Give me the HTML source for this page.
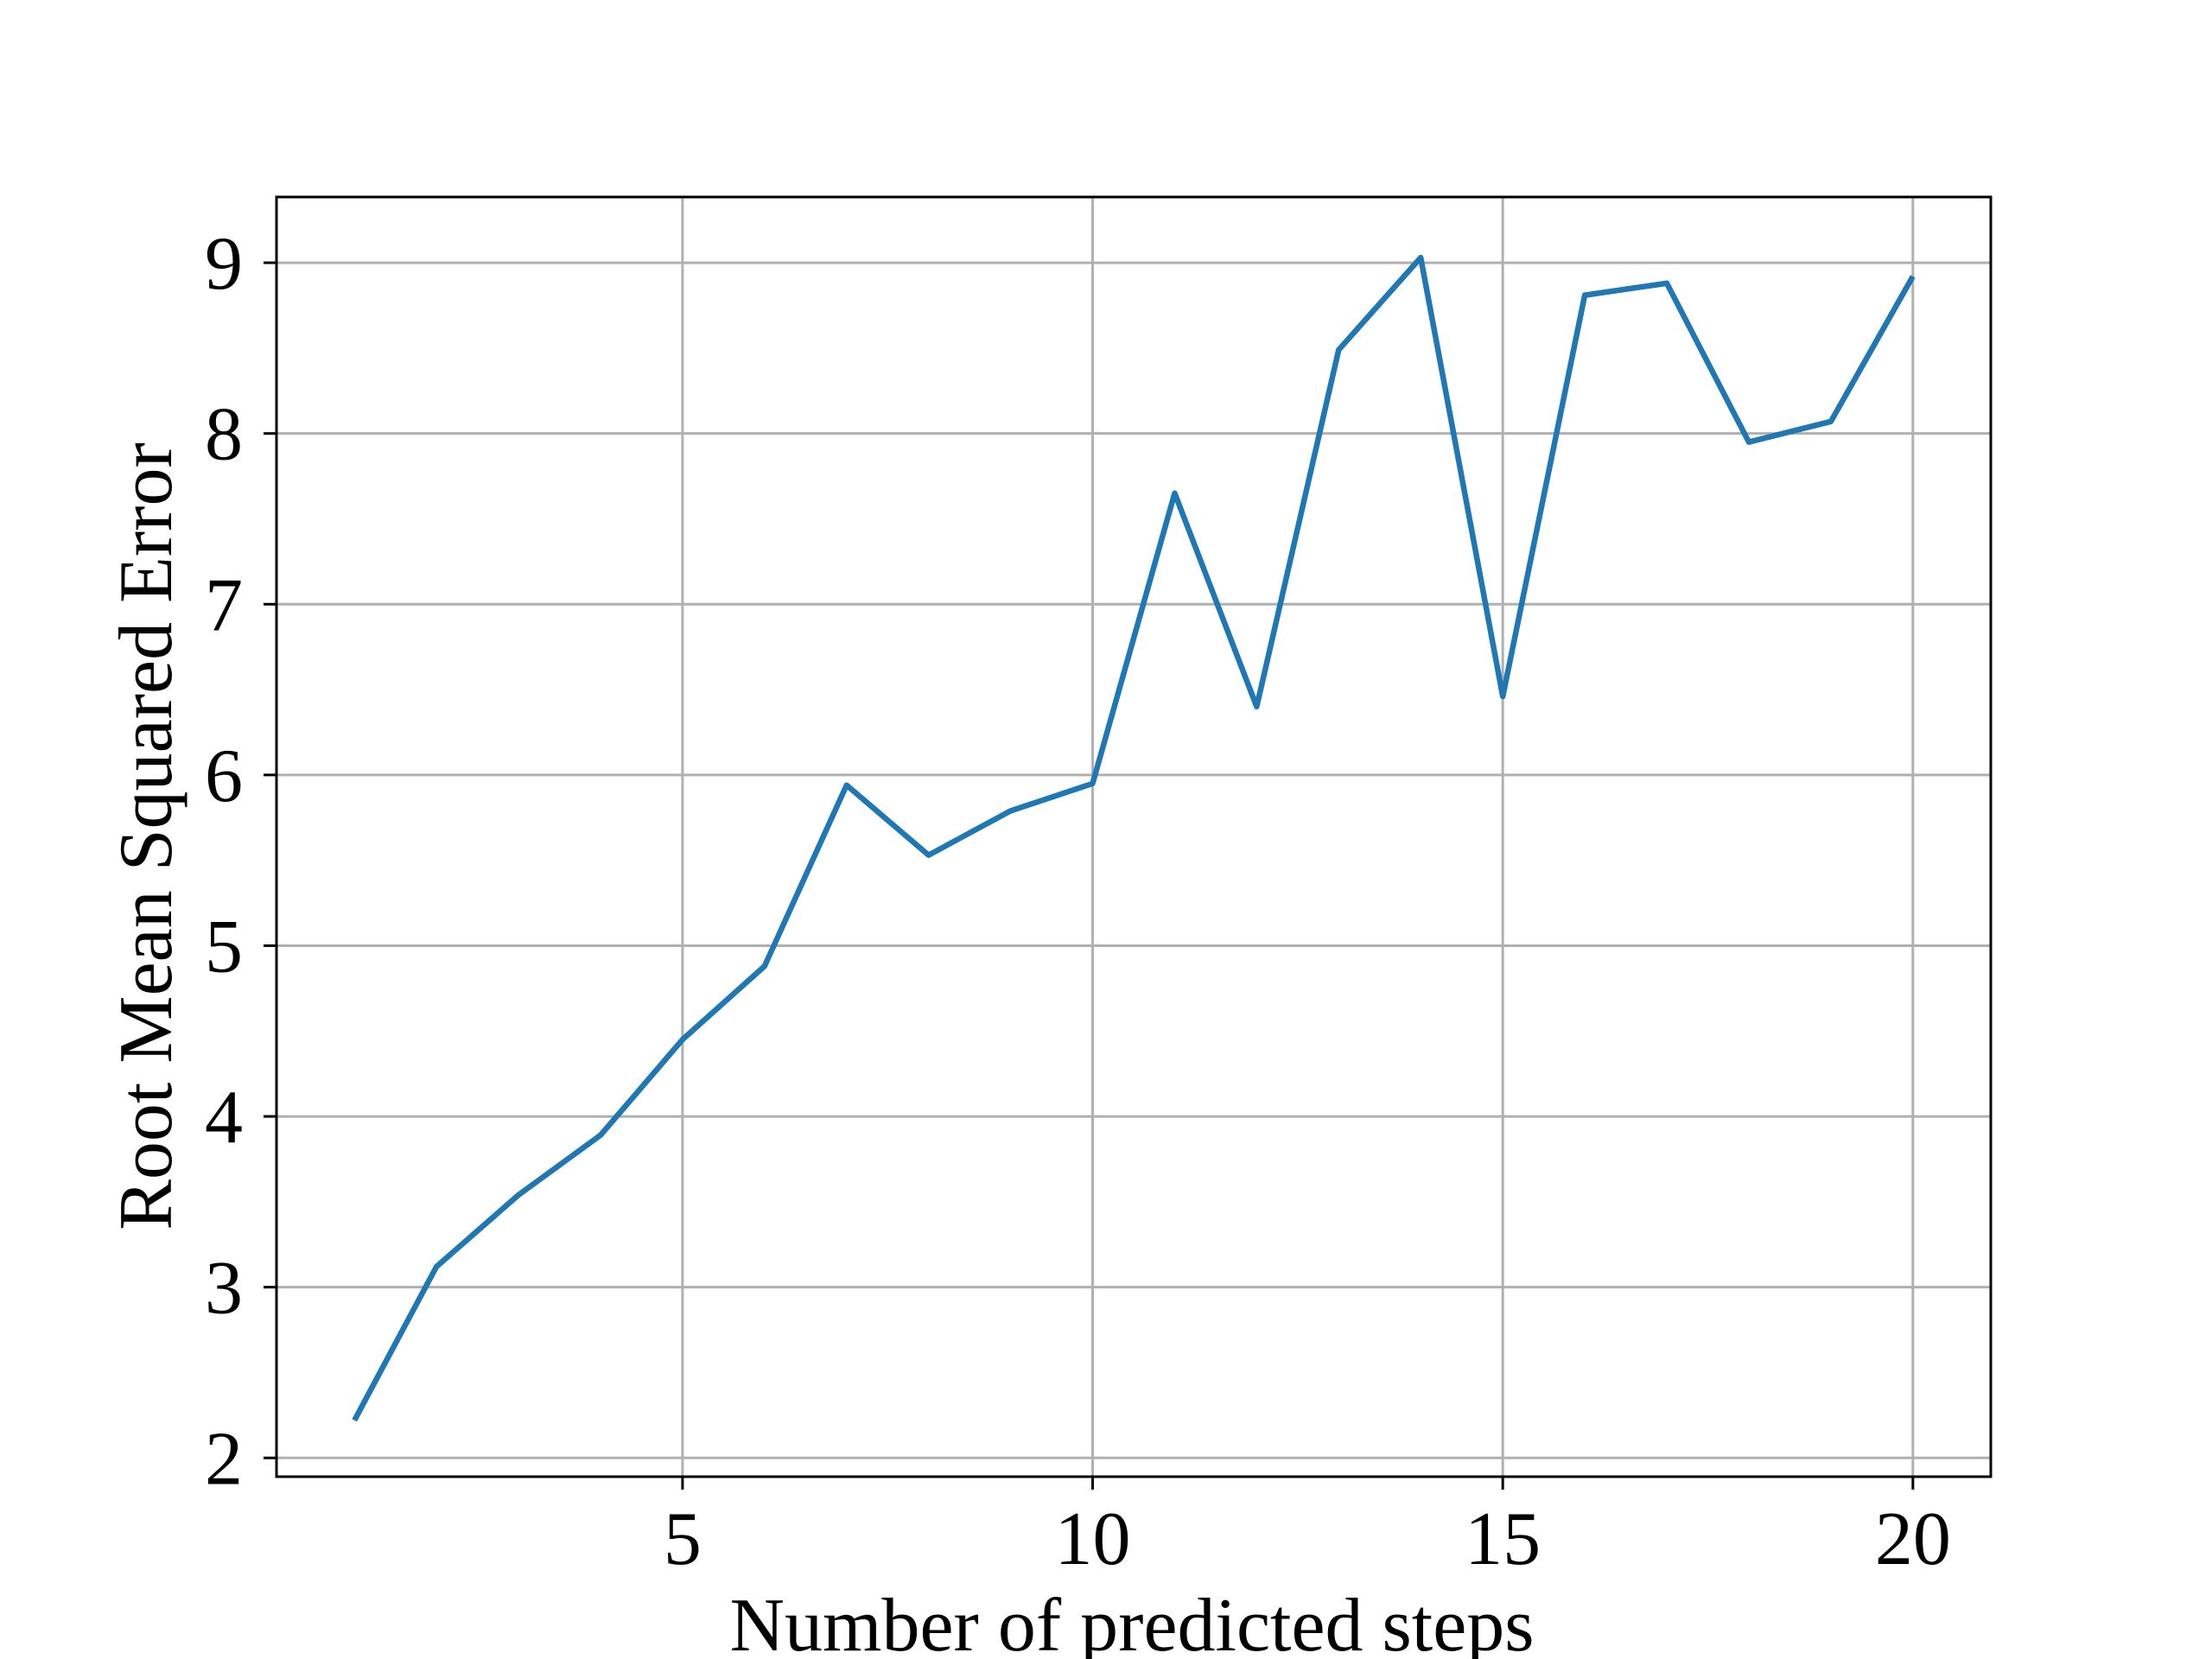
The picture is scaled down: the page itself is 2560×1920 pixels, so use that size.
<!DOCTYPE html>
<html><head><meta charset="utf-8"><style>
html,body{margin:0;padding:0;background:#fff;}
svg{display:block;}
text{font-family:"Liberation Serif","DejaVu Serif",serif;fill:#000;}
</style></head><body>
<svg id="chart" width="2560" height="1920" viewBox="0 0 2560 1920">
<rect x="0" y="0" width="2560" height="1920" fill="#fff"/>
<g id="grid"></g>
<g id="series"></g>
<rect x="320" y="228" width="1984" height="1481" fill="none" stroke="#000" stroke-width="3"/>
<g id="ticks"></g>
<text x="1310" y="1910" font-size="88" text-anchor="middle">Number of predicted steps</text>
<text transform="translate(198,968) rotate(-90)" font-size="88" text-anchor="middle">Root Mean Squared Error</text>
</svg>
<script>
const steps=[1,2,3,4,5,6,7,8,9,10,11,12,13,14,15,16,17,18,19,20];
const rmse=[2.22,3.12,3.54,3.89,4.45,4.88,5.94,5.53,5.79,5.95,7.65,6.40,8.49,9.03,6.46,8.81,8.88,7.95,8.07,8.92];
const xTicks=[5,10,15,20];
const yTicks=[2,3,4,5,6,7,8,9];
const L=320,R=2304,T=228,B=1709;
const xmin=0.05,xmax=20.95,ymin=1.89,ymax=9.385;
const sx=v=>L+(v-xmin)/(xmax-xmin)*(R-L);
const sy=v=>B-(v-ymin)/(ymax-ymin)*(B-T);
const NS='http://www.w3.org/2000/svg';
const grid=document.getElementById('grid'),ticks=document.getElementById('ticks'),series=document.getElementById('series');
function mk(tag,attrs,parent){const e=document.createElementNS(NS,tag);for(const k in attrs)e.setAttribute(k,attrs[k]);parent.appendChild(e);return e;}
xTicks.forEach(v=>{
  const x=sx(v);
  const g=mk('line',{x1:x,x2:x,y1:T,y2:B,stroke:'#b0b0b0','stroke-width':3},grid);
  
  
  const t=mk('line',{x1:x,x2:x,y1:B,y2:B+15,stroke:'#000','stroke-width':3},ticks);
  
  
  const l=mk('text',{x:x,y:1810,'font-size':88,'text-anchor':'middle'},ticks);
  l.textContent=v;
  
  
});
yTicks.forEach(v=>{
  const y=sy(v);
  const g=mk('line',{x1:L,x2:R,y1:y,y2:y,stroke:'#b0b0b0','stroke-width':3},grid);
  
  
  const t=mk('line',{x1:L-15,x2:L,y1:y,y2:y,stroke:'#000','stroke-width':3},ticks);
  
  
  const l=mk('text',{x:281,y:y+30,'font-size':88,'text-anchor':'end'},ticks);
  l.textContent=v;
  
  
});
const pts=steps.map((s,i)=>sx(s).toFixed(1)+','+sy(rmse[i]).toFixed(1)).join(' ');
const line=mk('polyline',{points:pts,fill:'none',stroke:'#1f77b4','stroke-width':6.5,'stroke-linejoin':'round','stroke-linecap':'butt'},series);


</script>
</body></html>
